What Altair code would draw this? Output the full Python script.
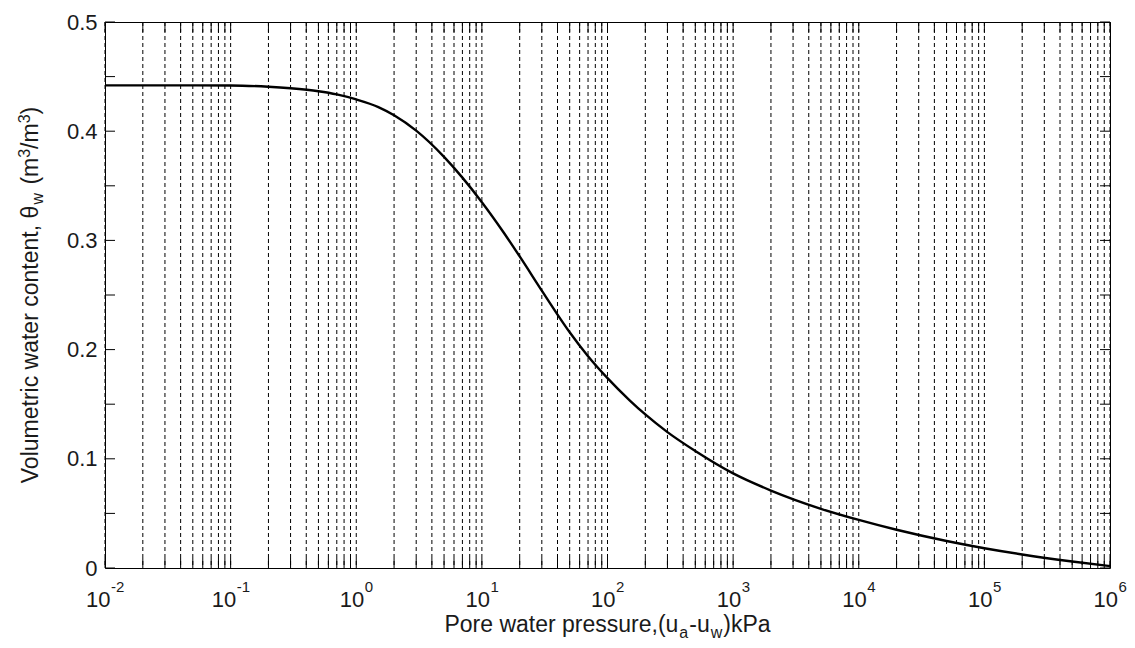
import altair as alt
import pandas as pd

# ---------------- data ----------------
pressure = [0.01, 0.03, 0.1, 0.2, 0.3, 0.5, 0.7, 1, 1.5, 2, 3, 5, 7, 10, 15, 20, 30, 40, 50, 70,
            100, 150, 200, 300, 500, 1000, 2000, 5000, 1e4, 2e4, 5e4, 1e5, 2e5, 5e5, 1e6]
theta = [0.442, 0.442, 0.4419, 0.4407, 0.4393, 0.4366, 0.4337, 0.4291, 0.4221, 0.4146, 0.4005,
         0.3765, 0.3575, 0.335, 0.3068, 0.2853, 0.254, 0.2321, 0.2159, 0.194, 0.1739, 0.1536,
         0.1406, 0.1244, 0.1071, 0.0866, 0.0709, 0.0542, 0.044, 0.035, 0.0247, 0.0181, 0.0124,
         0.006, 0.0018]
decade_exps = [-2, -1, 0, 1, 2, 3, 4, 5, 6]
y_major = [0, 0.1, 0.2, 0.3, 0.4, 0.5]
y_minor = [0.05, 0.15, 0.25, 0.35, 0.45]

W, H = 1005, 546
FONT = "Liberation Sans"
TXT = "#1a1a1a"

curve_df = pd.DataFrame({"p": pressure, "theta": theta})
grid_vals = []
for e in decade_exps[:-1]:
    for m in range(1, 10):
        grid_vals.append(m * 10.0 ** e)
grid_vals.append(10.0 ** decade_exps[-1])
grid_df = pd.DataFrame({"p": grid_vals})
ytick_df = pd.DataFrame({"theta": y_major + y_minor})
lab_df = pd.DataFrame({"p": [10.0 ** e for e in decade_exps],
                       "exp": [str(e) for e in decade_exps],
                       "neg": [e < 0 for e in decade_exps]})

xscale = alt.Scale(type="log", domain=[0.01, 1e6], nice=False)
yscale = alt.Scale(domain=[0, 0.5], nice=False, zero=False)
yaxis = alt.Axis(values=y_major, ticks=False, domain=False, grid=False, title=None,
                 labelFontSize=22, labelFont=FONT, labelColor=TXT, labelPadding=8,
                 labelExpr="datum.value == 0 ? '0' : format(datum.value, '.1f')")


def X(f="p"):
    return alt.X(f, type="quantitative", scale=xscale, axis=None)


def Y(f="theta"):
    return alt.Y(f, type="quantitative", scale=yscale, axis=yaxis)


layers = []

# dashed vertical grid
layers.append(alt.Chart(grid_df).mark_rule(color="black", strokeWidth=1, strokeDash=[4, 3])
              .encode(x=X(), y=alt.value(0), y2=alt.value(H)))
# x ticks (inward), bottom and top
layers.append(alt.Chart(grid_df).mark_rule(color="black", strokeWidth=1)
              .encode(x=X(), y=alt.value(H), y2=alt.value(H - 10)))
layers.append(alt.Chart(grid_df).mark_rule(color="black", strokeWidth=1)
              .encode(x=X(), y=alt.value(0), y2=alt.value(10)))
# y ticks (inward), left and right
layers.append(alt.Chart(ytick_df).mark_rule(color="black", strokeWidth=1)
              .encode(y=Y(), x=alt.value(0), x2=alt.value(10)))
layers.append(alt.Chart(ytick_df).mark_rule(color="black", strokeWidth=1)
              .encode(y=Y(), x=alt.value(W), x2=alt.value(W - 10)))
# curve
layers.append(alt.Chart(curve_df).mark_line(color="black", strokeWidth=2.4, interpolate="monotone")
              .encode(x=X(), y=Y()))

# x tick labels 10^n
BASE_FS, EXP_FS = 22, 15
w10 = 1.112 * BASE_FS
for neg, wexp in [(True, 0.889 * EXP_FS), (False, 0.556 * EXP_FS)]:
    sub = lab_df[lab_df["neg"] == neg]
    dx = (w10 - wexp) / 2
    layers.append(alt.Chart(sub).mark_text(align="right", baseline="alphabetic", dx=dx,
                                           fontSize=BASE_FS, font=FONT, color=TXT)
                  .encode(x=X(), y=alt.value(H + 39), text=alt.value("10")))
    layers.append(alt.Chart(sub).mark_text(align="left", baseline="alphabetic", dx=dx + 0.5,
                                           fontSize=EXP_FS, font=FONT, color=TXT)
                  .encode(x=X(), y=alt.value(H + 24), text="exp:N"))

# --- titles with sub/superscripts ---
CW = {' ': 278, ',': 278, '.': 278, '(': 333, ')': 333, '-': 333, '/': 278,
      'a': 556, 'c': 500, 'e': 556, 'i': 222, 'k': 500, 'l': 222, 'm': 833, 'n': 556, 'o': 556,
      'p': 556, 'r': 333, 's': 500, 't': 278, 'u': 556, 'w': 722, 'P': 667, 'V': 667, 'θ': 556}


def tw(s, fs):
    return sum(CW.get(c, 556) for c in s) * fs / 1000.0


one = alt.Data(values=[{"k": 1}])
TFS, SFS = 23, 16

# (text, font size, baseline shift, extra gap after)
xt_pieces = [("Pore water pressure,(u", TFS, 0, 1), ("a", SFS, 6, 1), ("-u", TFS, 0, 1),
             ("w", SFS, 6, 1), (")kPa", TFS, 0, 0)]
total = sum(tw(s, f) + g for s, f, _, g in xt_pieces)
pos = W / 2 - total / 2
for s, f, sh, g in xt_pieces:
    layers.append(alt.Chart(one).mark_text(align="left", baseline="alphabetic", x=pos, y=H + 64 + sh,
                                           fontSize=f, font=FONT, color=TXT)
                  .encode(text=alt.value(s)))
    pos += tw(s, f) + g

space = tw(" ", TFS)
yt_pieces = [("Volumetric water content, θ", TFS, 0, 0), ("w", SFS, 5, 2 + space), ("(m", TFS, 0, 0),
             ("3", SFS, -8, 0), ("/m", TFS, 0, 0), ("3", SFS, -8, 0), (")", TFS, 0, 0)]
total = sum(tw(s, f) + g for s, f, _, g in yt_pieces)
pos = H / 2 + total / 2
for s, f, sh, g in yt_pieces:
    layers.append(alt.Chart(one).mark_text(align="left", baseline="alphabetic", angle=270,
                                           x=-67 + sh, y=pos, fontSize=f, font=FONT, color=TXT)
                  .encode(text=alt.value(s)))
    pos -= tw(s, f) + g

chart = alt.layer(*layers).properties(
    width=W, height=H,
    autosize=alt.AutoSizeParams(type="none"),
    padding={"left": 97, "top": 14, "right": 17, "bottom": 72},
    background="white",
).configure_view(stroke="black", strokeWidth=1)

chart.save("out.html", embed_options={"renderer": "svg", "actions": False})
